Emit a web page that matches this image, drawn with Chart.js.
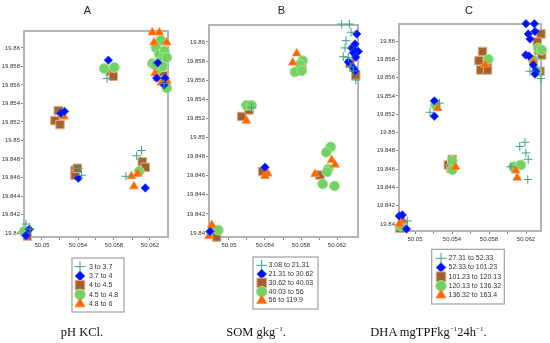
<!DOCTYPE html>
<html>
<head>
<meta charset="utf-8">
<script src="https://cdn.jsdelivr.net/npm/chart.js@4.4.0/dist/chart.umd.min.js"></script>
<style>
  body { margin: 0; background: #fff; }
  #lienzo { position: relative; width: 550px; height: 343px; overflow: hidden; }
  canvas { position: absolute; top: 0; }
  .titulo { position: absolute; top: 4px; font: 11px "Liberation Sans", Arial, sans-serif; color: #222; transform: translateX(-50%); }
  .pie { position: absolute; top: 325px; font: 12.5px "Liberation Serif", serif; color: #111; transform: translateX(-50%); white-space: nowrap; }
  .pie sup { font-size: 7px; vertical-align: 5px; line-height: 0; }
</style>
</head>
<body>
<div id="lienzo">
  <canvas id="panelA" width="185" height="343" style="left:0"></canvas>
  <canvas id="panelB" width="185" height="343" style="left:185px"></canvas>
  <canvas id="panelC" width="180" height="343" style="left:370px"></canvas>
  <div class="titulo" style="left:87.5px">A</div>
  <div class="titulo" style="left:281.5px">B</div>
  <div class="titulo" style="left:469px">C</div>
  <div class="pie" style="left:82px">pH KCl.</div>
  <div class="pie" style="left:256px">SOM gkg<sup>−1</sup>.</div>
  <div class="pie" style="left:428.5px">DHA mgTPFkg<sup>−1</sup>24h<sup>−1</sup>.</div>
</div>
<script>
// Ticks
const yTicks = [19.84, 19.842, 19.844, 19.846, 19.848, 19.85, 19.852, 19.854, 19.856, 19.858, 19.86];
const xTicks = [50.05, 50.052, 50.054, 50.056, 50.058, 50.06, 50.062];
const xTickLabels = [50.05, 50.054, 50.058, 50.062];

// Leyendas
const etiquetasA = ['3 to 3.7', '3.7 to 4', '4 to 4.5', '4.5 to 4.8', '4.8 to 6'];
const etiquetasB = ['3.08 to 21.31', '21.31 to 30.62', '30.62 to 40.03', '40.03 to 56', '56 to 119.9'];
const etiquetasC = ['27.31 to 52.33', '52.33 to 101.23', '101.23 to 120.13', '120.13 to 136.32', '136.32 to 163.4'];

// Panel A - pH KCl.
const aCruz = [[50.04822,19.84097],[50.04867,19.84043],[50.05403,19.84699],[50.05439,19.84624],[50.05722,19.85669],[50.05933,19.84613],[50.06052,19.84835],[50.06106,19.84892],[50.06356,19.85613]];
const aRombo = [[50.04859,19.8404],[50.04822,19.83973],[50.05208,19.85294],[50.0525,19.85315],[50.05403,19.84591],[50.05737,19.85868],[50.06148,19.84487],[50.06286,19.85839],[50.06274,19.85674],[50.06367,19.85674],[50.06359,19.85602]];
const aCuadro = [[50.04837,19.83968],[50.05181,19.85323],[50.05144,19.85215],[50.052,19.85172],[50.05367,19.84677],[50.05367,19.84624],[50.05392,19.84699],[50.05761,19.85747],[50.05792,19.85694],[50.06114,19.84769],[50.06148,19.8471],[50.06348,19.85699],[50.06367,19.85627]];
const aCirculo = [[50.048,19.84016],[50.05692,19.85777],[50.05803,19.8579],[50.0608,19.84667],[50.06319,19.86083],[50.06267,19.86003],[50.06303,19.85932],[50.06359,19.85968],[50.06348,19.85896],[50.06386,19.85896],[50.06226,19.85831],[50.06292,19.85777],[50.06341,19.85799],[50.06348,19.85645],[50.06386,19.85567],[50.06256,19.85817]];
const aTriangulo = [[50.05244,19.85258],[50.05994,19.84613],[50.06063,19.8464],[50.06022,19.84505],[50.06226,19.86167],[50.06303,19.86167],[50.06386,19.86059],[50.06244,19.86059],[50.06256,19.85726],[50.06283,19.85672],[50.06328,19.85624],[50.06389,19.85645]];

// Panel B - SOM
const bCruz = [[50.0525,19.85312],[50.06252,19.86188],[50.06337,19.86188],[50.06356,19.86102],[50.063,19.86014],[50.0627,19.85846],[50.06326,19.8584],[50.06344,19.85741],[50.06381,19.85696],[50.06408,19.85602],[50.06289,19.85938]];
const bRombo = [[50.04789,19.84016],[50.054,19.84688],[50.06419,19.86084],[50.06363,19.85937],[50.064,19.85916],[50.06437,19.85901],[50.06381,19.85888],[50.06408,19.8584],[50.06326,19.85791],[50.06381,19.85728],[50.064,19.85696],[50.064,19.85979]];
const bCuadro = [[50.04826,19.84031],[50.04863,19.83958],[50.05141,19.8522],[50.05222,19.85288],[50.05374,19.84644],[50.05808,19.8577],[50.06011,19.84607],[50.06344,19.85777],[50.06408,19.85654]];
const bCirculo = [[50.04881,19.84031],[50.05194,19.85337],[50.0525,19.85337],[50.05817,19.85804],[50.05789,19.85764],[50.05733,19.85686],[50.05808,19.857],[50.0613,19.84901],[50.06081,19.84845],[50.06103,19.8467],[50.06089,19.84639],[50.06041,19.84513],[50.06172,19.84492]];
const bTriangulo = [[50.04808,19.84084],[50.04778,19.83969],[50.05194,19.85176],[50.0543,19.84623],[50.054,19.84597],[50.05752,19.8588],[50.05708,19.85785],[50.06141,19.84764],[50.06178,19.84715],[50.05956,19.84618]];

// Panel C - DHA
const cCruz = [[50.04917,19.84033],[50.05162,19.85221],[50.05265,19.8532],[50.06132,19.84847],[50.06189,19.84893],[50.06199,19.84776],[50.06224,19.84707],[50.06219,19.84486],[50.06035,19.84625],[50.06243,19.85669],[50.06362,19.8559]];
const cRombo = [[50.0483,19.84087],[50.04863,19.84098],[50.04908,19.83945],[50.05209,19.85346],[50.05209,19.85178],[50.062,19.86189],[50.0629,19.86189],[50.06225,19.86077],[50.06297,19.86104],[50.06243,19.86022],[50.06197,19.85847],[50.06232,19.85836],[50.06279,19.85738],[50.06305,19.85669],[50.06297,19.85639]];
const cCuadro = [[50.04838,19.83953],[50.05403,19.84705],[50.0536,19.84645],[50.05389,19.84607],[50.0573,19.85885],[50.05692,19.85785],[50.05784,19.8577],[50.0571,19.85683],[50.05784,19.85683],[50.06362,19.86077],[50.06322,19.85989],[50.06333,19.85902],[50.06369,19.85847],[50.06351,19.85669]];
const cCirculo = [[50.04845,19.83978],[50.05222,19.853],[50.05403,19.84689],[50.05403,19.84593],[50.05792,19.85801],[50.06068,19.84625],[50.06145,19.84645],[50.06333,19.85923],[50.06369,19.85902],[50.06279,19.85792],[50.06316,19.85669]];
const cTriangulo = [[50.04874,19.84036],[50.0483,19.83997],[50.05245,19.85266],[50.05438,19.84623],[50.05757,19.85741],[50.06089,19.84585],[50.06105,19.84506],[50.06279,19.85778]];

// Estilos de marcadores (mismo orden que las leyendas)
const estilos = [
  { pointStyle: 'cross', radius: 4.3, legendRadius: 5.5, fill: '#3aa58a', border: '#3aa58a', bw: 1, order: 0 },
  { pointStyle: 'rectRot', radius: 4.2, legendRadius: 4.8, fill: '#0010ff', border: '#2a3cff', bw: 0.8, order: 1 },
  { pointStyle: 'rect', radius: 6, legendRadius: 6.8, fill: '#a5612c', border: '#dcae88', bw: 1, order: 4 },
  { pointStyle: 'circle', radius: 5, legendRadius: 5.3, fill: '#74d262', border: '#a5e598', bw: 1, order: 3 },
  { pointStyle: 'triangle', radius: 5, legendRadius: 5.8, fill: '#ff6600', border: '#ff8c40', bw: 0.8, order: 2 }
];

const fuenteTicks = { size: 6, family: '"Liberation Sans", Arial, sans-serif' };

// Marco del area y leyenda con borde
const marco = {
  id: 'marco',
  beforeDatasetsDraw(chart) {
    const a = chart.chartArea, ctx = chart.ctx;
    ctx.save();
    ctx.strokeStyle = '#b4b4b4';
    ctx.lineWidth = 2;
    ctx.strokeRect(a.left, a.top, a.right - a.left, a.bottom - a.top);
    ctx.restore();
  },
  afterDraw(chart, args, o) {
    const ctx = chart.ctx, L = o.leyenda;
    ctx.save();
    ctx.strokeStyle = '#a0a0a0';
    ctx.lineWidth = 1.2;
    ctx.strokeRect(L.x, L.y, L.w, L.h);
    ctx.font = '7px "Liberation Sans", Arial, sans-serif';
    ctx.textBaseline = 'middle';
    o.etiquetas.forEach((t, i) => {
      const e = estilos[i], y = L.fila0 + i * L.paso;
      ctx.fillStyle = e.fill; ctx.strokeStyle = e.border; ctx.lineWidth = e.bw;
      Chart.helpers.drawPoint(ctx, { pointStyle: e.pointStyle, radius: e.legendRadius, borderWidth: e.bw, rotation: 0 }, L.mx, y);
      ctx.fillStyle = '#333';
      ctx.fillText(t, L.tx, y);
    });
    ctx.restore();
  }
};

function etiquetaY(v) { return String(+v.toFixed(3)); }
function etiquetaX(v) { const r = +v.toFixed(3); return xTickLabels.includes(r) ? String(r) : ''; }

function crearPanel(id, series, etiquetas, cfg) {
  new Chart(document.getElementById(id), {
    type: 'scatter',
    data: {
      datasets: series.map((pts, i) => ({
        label: etiquetas[i],
        data: pts.map(p => ({ x: p[0], y: p[1] })),
        pointStyle: estilos[i].pointStyle,
        pointRadius: estilos[i].radius,
        backgroundColor: estilos[i].fill,
        borderColor: estilos[i].border,
        borderWidth: estilos[i].bw,
        order: estilos[i].order,
        clip: false
      }))
    },
    options: {
      responsive: false,
      animation: false,
      events: [],
      layout: { padding: cfg.padding },
      plugins: {
        legend: { display: false },
        tooltip: { enabled: false },
        marco: { leyenda: cfg.leyenda, etiquetas: etiquetas }
      },
      scales: {
        x: {
          type: 'linear', min: cfg.x[0], max: cfg.x[1],
          afterBuildTicks: s => { s.ticks = xTicks.map(v => ({ value: v })); },
          afterFit: s => { s.height = 14; },
          grid: { drawOnChartArea: false, tickLength: 3, color: '#8a8a8a' },
          border: { display: false },
          ticks: { autoSkip: false, maxRotation: 0, padding: 2, font: fuenteTicks, color: '#333', callback: etiquetaX }
        },
        y: {
          type: 'linear', min: cfg.y[0], max: cfg.y[1],
          afterBuildTicks: s => { s.ticks = yTicks.map(v => ({ value: v })); },
          afterFit: s => { s.width = cfg.yW; },
          grid: { drawOnChartArea: false, tickLength: 3, color: '#8a8a8a' },
          border: { display: false },
          ticks: { autoSkip: false, padding: 1, font: fuenteTicks, color: '#333', callback: etiquetaY }
        }
      }
    },
    plugins: [marco]
  });
}

crearPanel('panelA', [aCruz, aRombo, aCuadro, aCirculo, aTriangulo], etiquetasA, {
  padding: { left: 0, top: 31, right: 17, bottom: 92 }, yW: 24,
  x: [50.048, 50.064], y: [19.83957, 19.86183],
  leyenda: { x: 72, y: 258, w: 52, h: 54, fila0: 266.7, paso: 9.3, mx: 80, tx: 89 }
});
crearPanel('panelB', [bCruz, bRombo, bCuadro, bCirculo, bTriangulo], etiquetasB, {
  padding: { left: 0, top: 25, right: 12, bottom: 92 }, yW: 24,
  x: [50.04778, 50.06433], y: [19.83958, 19.86178],
  leyenda: { x: 68, y: 257, w: 65, h: 52, fila0: 265.3, paso: 8.8, mx: 76.7, tx: 83.5 }
});
crearPanel('panelC', [cCruz, cRombo, cCuadro, cCirculo, cTriangulo], etiquetasC, {
  padding: { left: 0, top: 24, right: 9, bottom: 98 }, yW: 29,
  x: [50.04827, 50.06362], y: [19.83923, 19.86186],
  leyenda: { x: 61.7, y: 249.3, w: 72.6, h: 54.7, fila0: 258.3, paso: 9.2, mx: 71, tx: 78.5 }
});
</script>
</body>
</html>
